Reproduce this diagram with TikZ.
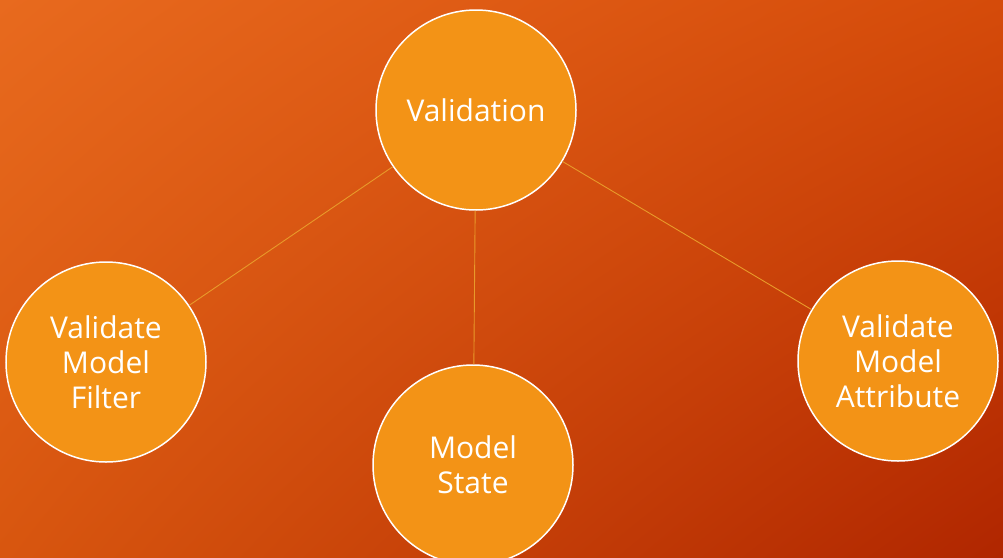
\documentclass[tikz,border=0pt]{standalone}
\usepackage{fontspec}
\setmainfont{Open Sans}
\usetikzlibrary{shadings}
\definecolor{bgul}{HTML}{E86A1E}
\definecolor{bgur}{HTML}{D54B0A}
\definecolor{bgll}{HTML}{D8560F}
\definecolor{bglr}{HTML}{B02600}
\definecolor{bubble}{HTML}{F39316}
\definecolor{spoke}{HTML}{E89A2A}
\begin{document}
\begin{tikzpicture}[x=1pt,y=-1pt,
  topic/.style={circle, draw=white, line width=1.5pt, fill=bubble,
    minimum size=200pt, inner sep=0pt, align=center, text=white,
    font=\fontsize{30}{35}\selectfont},
  spokeline/.style={draw=spoke, line width=0.9pt}]
  \useasboundingbox (0,0) rectangle (1003,557);
  \clip (0,0) rectangle (1003,557);
  \shade[upper left=bgul, upper right=bgur, lower left=bgll, lower right=bglr]
    (0,0) rectangle (1003,557);
  % the four circles
  \node[topic] (valid) at (476,110) {Validation};
  \node[topic] (filter) at (106,362) {Validate\\Model\\Filter};
  \node[topic] (state) at (473,465) {Model\\State};
  \node[topic] (attr) at (898,361) {Validate\\Model\\Attribute};
  % spokes
  \draw[spokeline] (valid) -- (filter);
  \draw[spokeline] (valid) -- (state);
  \draw[spokeline] (valid) -- (attr);
\end{tikzpicture}
\end{document}
